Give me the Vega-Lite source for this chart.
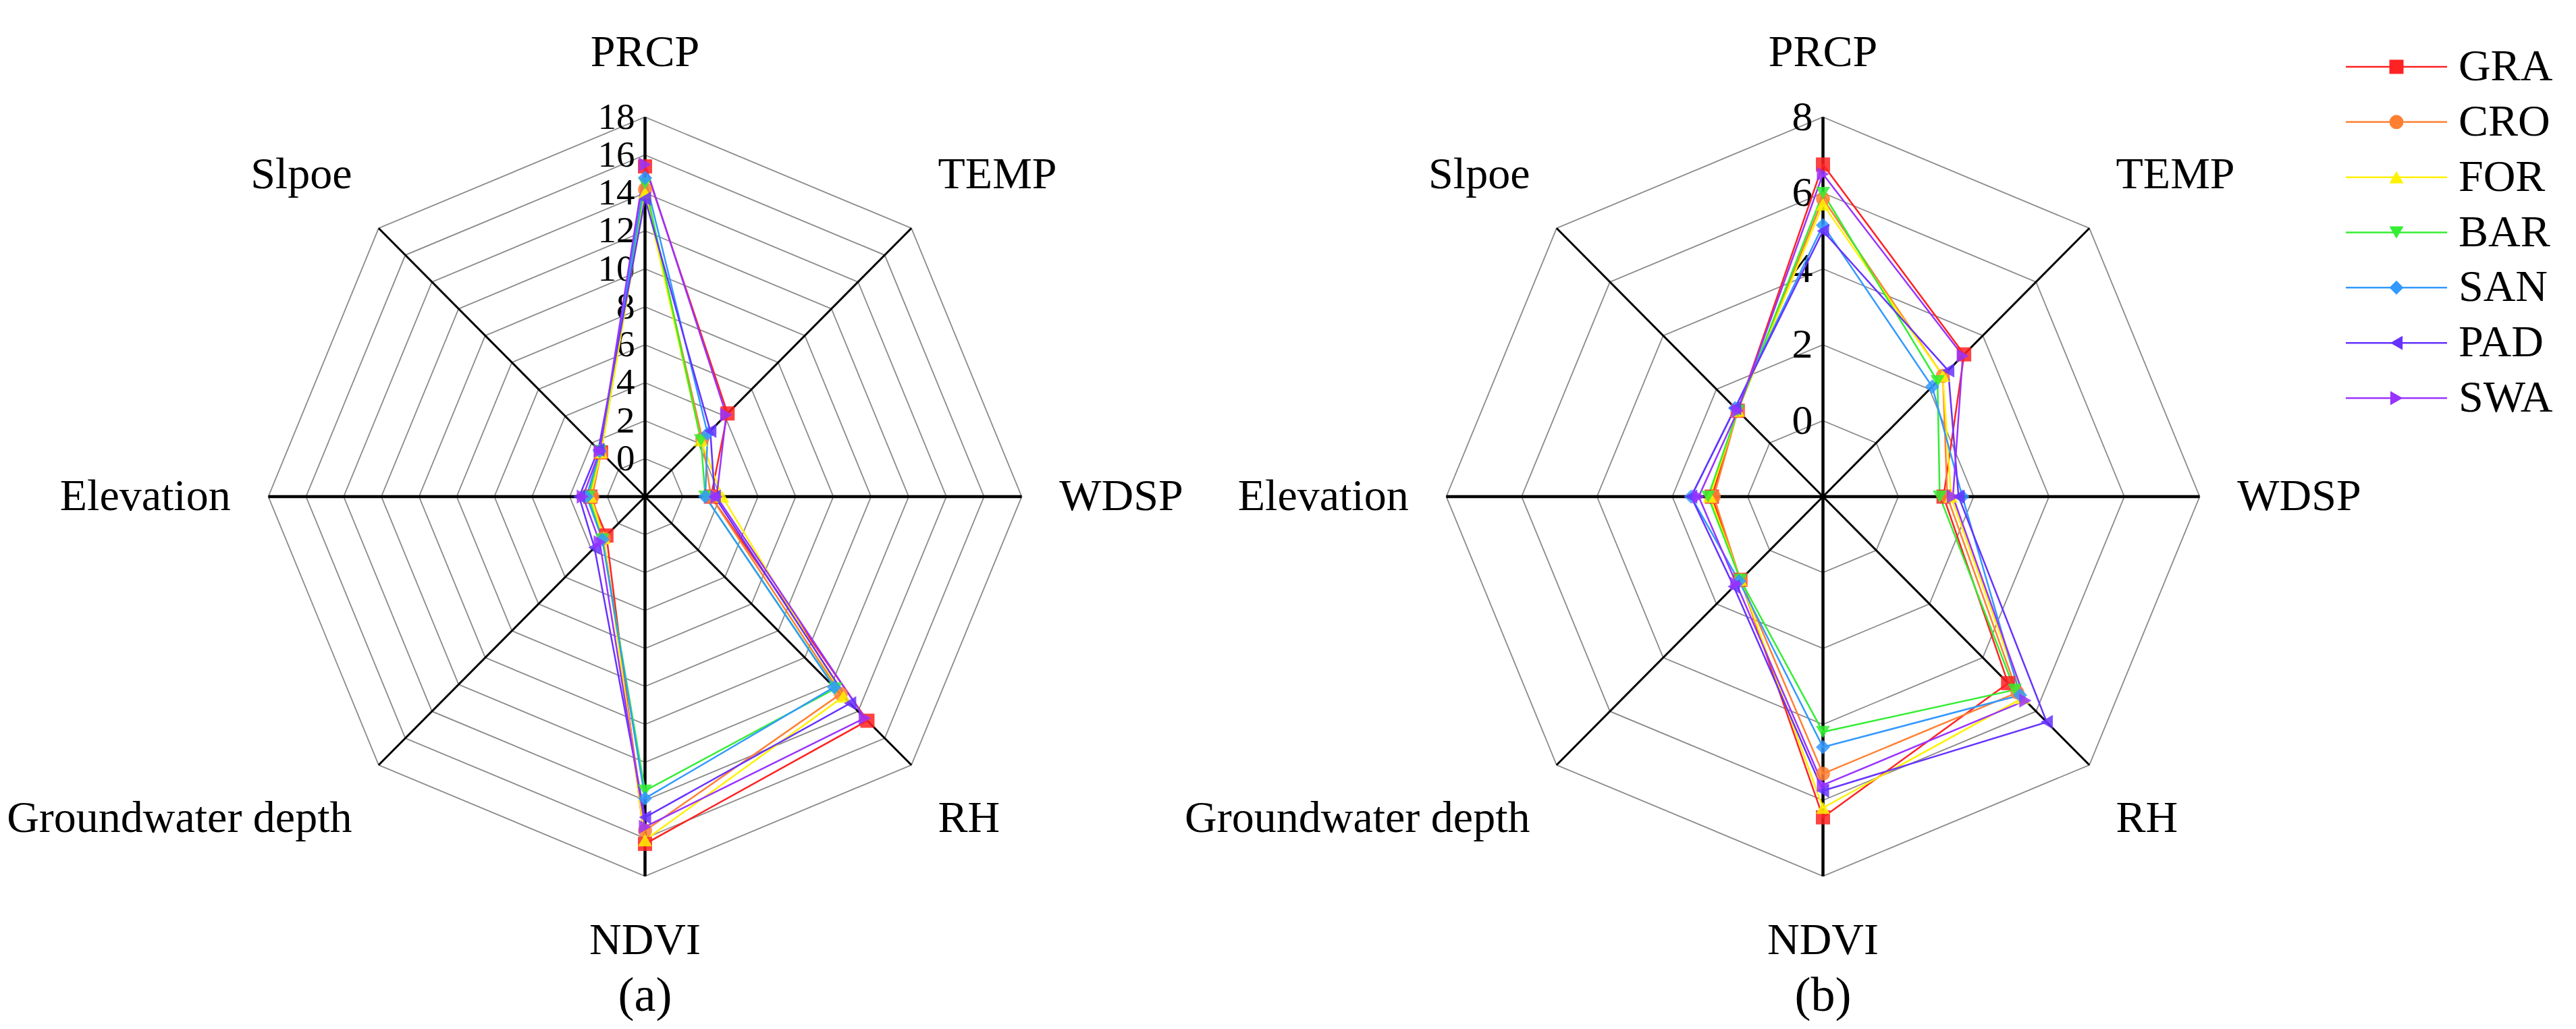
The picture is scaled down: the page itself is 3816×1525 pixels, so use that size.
{
  "$schema": "https://vega.github.io/schema/vega-lite/v6.json",
  "background": "white",
  "padding": 0,
  "autosize": {"type": "pad"},
  "spacing": 0,
  "bounds": "flush",
  "config": {"view": {"stroke": null}, "font": "Liberation Serif", "text": {"font": "Liberation Serif"}},
  "datasets": {
    "axes": [
      {"axis": "PRCP", "k": 0},
      {"axis": "TEMP", "k": 1},
      {"axis": "WDSP", "k": 2},
      {"axis": "RH", "k": 3},
      {"axis": "NDVI", "k": 4},
      {"axis": "Groundwater depth", "k": 5},
      {"axis": "Elevation", "k": 6},
      {"axis": "Slpoe", "k": 7}
    ],
    "groups": [
      {"group": "GRA"}, {"group": "CRO"}, {"group": "FOR"}, {"group": "BAR"},
      {"group": "SAN"}, {"group": "PAD"}, {"group": "SWA"}
    ],
    "captions": [
      {"chart": "a", "label": "(a)"},
      {"chart": "b", "label": "(b)"}
    ],
    "rings": [
      {"chart": "a", "level": 0, "k": [0,1,2,3,4,5,6,7]},
      {"chart": "a", "level": 2, "k": [0,1,2,3,4,5,6,7]},
      {"chart": "a", "level": 4, "k": [0,1,2,3,4,5,6,7]},
      {"chart": "a", "level": 6, "k": [0,1,2,3,4,5,6,7]},
      {"chart": "a", "level": 8, "k": [0,1,2,3,4,5,6,7]},
      {"chart": "a", "level": 10, "k": [0,1,2,3,4,5,6,7]},
      {"chart": "a", "level": 12, "k": [0,1,2,3,4,5,6,7]},
      {"chart": "a", "level": 14, "k": [0,1,2,3,4,5,6,7]},
      {"chart": "a", "level": 16, "k": [0,1,2,3,4,5,6,7]},
      {"chart": "a", "level": 18, "k": [0,1,2,3,4,5,6,7]},
      {"chart": "b", "level": 0, "k": [0,1,2,3,4,5,6,7]},
      {"chart": "b", "level": 2, "k": [0,1,2,3,4,5,6,7]},
      {"chart": "b", "level": 4, "k": [0,1,2,3,4,5,6,7]},
      {"chart": "b", "level": 6, "k": [0,1,2,3,4,5,6,7]},
      {"chart": "b", "level": 8, "k": [0,1,2,3,4,5,6,7]}
    ],
    "series": [
      {"chart": "a", "axis": "PRCP", "GRA": 15.4, "CRO": 14.2, "FOR": 14.0, "BAR": 14.5, "SAN": 14.8, "PAD": 13.7, "SWA": 15.5},
      {"chart": "a", "axis": "TEMP", "GRA": 4.2, "CRO": 2.3, "FOR": 2.2, "BAR": 2.2, "SAN": 2.7, "PAD": 2.9, "SWA": 4.1},
      {"chart": "a", "axis": "WDSP", "GRA": 1.5, "CRO": 1.5, "FOR": 2.1, "BAR": 1.2, "SAN": 1.2, "PAD": 1.7, "SWA": 1.8},
      {"chart": "a", "axis": "RH", "GRA": 14.7, "CRO": 12.7, "FOR": 12.9, "BAR": 12.3, "SAN": 12.2, "PAD": 13.4, "SWA": 14.5},
      {"chart": "a", "axis": "NDVI", "GRA": 16.3, "CRO": 15.6, "FOR": 16.1, "BAR": 13.5, "SAN": 13.9, "PAD": 14.9, "SWA": 15.4},
      {"chart": "a", "axis": "Groundwater depth", "GRA": 0.9, "CRO": 1.1, "FOR": 1.1, "BAR": 1.2, "SAN": 1.2, "PAD": 1.8, "SWA": 1.4},
      {"chart": "a", "axis": "Elevation", "GRA": 0.9, "CRO": 0.8, "FOR": 0.9, "BAR": 1.0, "SAN": 1.1, "PAD": 1.5, "SWA": 1.3},
      {"chart": "a", "axis": "Slpoe", "GRA": 1.3, "CRO": 1.3, "FOR": 1.3, "BAR": 1.4, "SAN": 1.4, "PAD": 1.5, "SWA": 1.4},
      {"chart": "b", "axis": "PRCP", "GRA": 6.75, "CRO": 5.85, "FOR": 5.7, "BAR": 6.0, "SAN": 5.15, "PAD": 5.0, "SWA": 6.5},
      {"chart": "b", "axis": "TEMP", "GRA": 3.3, "CRO": 2.5, "FOR": 2.5, "BAR": 2.3, "SAN": 2.1, "PAD": 2.7, "SWA": 3.25},
      {"chart": "b", "axis": "WDSP", "GRA": 1.2, "CRO": 1.3, "FOR": 1.4, "BAR": 1.1, "SAN": 1.7, "PAD": 1.6, "SWA": 1.45},
      {"chart": "b", "axis": "RH", "GRA": 4.95, "CRO": 5.3, "FOR": 5.5, "BAR": 5.2, "SAN": 5.4, "PAD": 6.4, "SWA": 5.6},
      {"chart": "b", "axis": "NDVI", "GRA": 6.45, "CRO": 5.3, "FOR": 6.2, "BAR": 4.2, "SAN": 4.6, "PAD": 5.75, "SWA": 5.6},
      {"chart": "b", "axis": "Groundwater depth", "GRA": 1.1, "CRO": 1.1, "FOR": 1.1, "BAR": 1.1, "SAN": 1.15, "PAD": 1.35, "SWA": 1.25},
      {"chart": "b", "axis": "Elevation", "GRA": 0.95, "CRO": 0.9, "FOR": 1.0, "BAR": 1.05, "SAN": 1.5, "PAD": 1.5, "SWA": 1.3},
      {"chart": "b", "axis": "Slpoe", "GRA": 1.2, "CRO": 1.2, "FOR": 1.2, "BAR": 1.2, "SAN": 1.3, "PAD": 1.3, "SWA": 1.2}
    ]
  },
  "hconcat": [
    {
      "width": 1830,
      "height": 1525,
      "encoding": {
        "x": {"field": "px", "type": "quantitative", "scale": {"domain": [-1.7124, 1.5672], "nice": false, "zero": false}, "axis": null},
        "y": {"field": "py", "type": "quantitative", "scale": {"domain": [-1.4027, 1.3085], "nice": false, "zero": false}, "axis": null}
      },
      "layer": [
        {
          "data": {"name": "rings"},
          "transform": [
            {"filter": "datum.chart == 'a'"},
            {"flatten": ["k"]},
            {"calculate": "(datum.level + 2) / 20", "as": "r"},
            {"calculate": "datum.r * sin(datum.k * PI / 4)", "as": "px"},
            {"calculate": "datum.r * cos(datum.k * PI / 4)", "as": "py"}
          ],
          "mark": {"type": "line", "interpolate": "linear-closed", "stroke": "#8a8a8a", "strokeWidth": 1.8},
          "encoding": {"detail": {"field": "level", "type": "nominal"}, "order": {"field": "k", "type": "quantitative"}}
        },
        {
          "data": {"name": "axes"},
          "transform": [
            {"calculate": "sin(datum.k * PI / 4)", "as": "px"},
            {"calculate": "cos(datum.k * PI / 4)", "as": "py"}
          ],
          "mark": {"type": "rule", "color": "black"},
          "encoding": {
            "x2": {"datum": 0}, "y2": {"datum": 0},
            "strokeWidth": {"condition": {"test": "datum.k % 2 == 0", "value": 4.5}, "value": 3}
          }
        },
        {
          "data": {"name": "rings"},
          "transform": [
            {"filter": "datum.chart == 'a'"},
            {"calculate": "(datum.level + 2) / 20", "as": "py"},
            {"calculate": "0 * datum.level", "as": "px"}
          ],
          "mark": {"type": "text", "align": "right", "baseline": "middle", "dx": -15, "fontSize": 55, "color": "black"},
          "encoding": {"text": {"field": "level", "type": "quantitative"}}
        },
        {
          "data": {"name": "axes"},
          "transform": [
            {"calculate": "1.1 * sin(datum.k * PI / 4)", "as": "px"},
            {"calculate": "1.1 * cos(datum.k * PI / 4) + (cos(datum.k * PI / 4) > 0.1 ? 0.07 : (cos(datum.k * PI / 4) < -0.1 ? -0.07 : 0))", "as": "py"},
            {"calculate": "sin(datum.k * PI / 4) > 0.1 ? 'left' : (sin(datum.k * PI / 4) < -0.1 ? 'right' : 'center')", "as": "side"}
          ],
          "layer": [
            {"transform": [{"filter": "datum.side == 'left'"}], "mark": {"type": "text", "align": "left", "baseline": "middle", "fontSize": 66, "color": "black"}, "encoding": {"text": {"field": "axis"}}},
            {"transform": [{"filter": "datum.side == 'right'"}], "mark": {"type": "text", "align": "right", "baseline": "middle", "fontSize": 66, "color": "black"}, "encoding": {"text": {"field": "axis"}}},
            {"transform": [{"filter": "datum.side == 'center'"}], "mark": {"type": "text", "align": "center", "baseline": "middle", "fontSize": 66, "color": "black"}, "encoding": {"text": {"field": "axis"}}}
          ]
        },
        {
          "data": {"name": "captions"},
          "transform": [
            {"filter": "datum.chart == 'a'"},
            {"calculate": "0", "as": "px"},
            {"calculate": "-1.3156", "as": "py"}
          ],
          "mark": {"type": "text", "align": "center", "baseline": "middle", "fontSize": 72, "color": "black"},
          "encoding": {"text": {"field": "label"}}
        },
        {
          "data": {"name": "series"},
          "transform": [
            {"filter": "datum.chart == 'a'"},
            {"fold": ["GRA", "CRO", "FOR", "BAR", "SAN", "PAD", "SWA"], "as": ["group", "value"]},
            {"lookup": "axis", "from": {"data": {"name": "axes"}, "key": "axis", "fields": ["k"]}},
            {"calculate": "(datum.value + 2) / 20", "as": "r"},
            {"calculate": "datum.r * sin(datum.k * PI / 4)", "as": "px"},
            {"calculate": "datum.r * cos(datum.k * PI / 4)", "as": "py"}
          ],
          "encoding": {
            "color": {"field": "group", "type": "nominal", "scale": {"domain": ["GRA", "CRO", "FOR", "BAR", "SAN", "PAD", "SWA"], "range": ["#FF2222", "#FF8033", "#FFF200", "#33EE33", "#3399FF", "#6633FF", "#9933FF"]}, "legend": null}
          },
          "layer": [
            {"mark": {"type": "line", "interpolate": "linear-closed", "strokeWidth": 2.5}, "encoding": {"order": {"field": "k", "type": "quantitative"}}},
            {"mark": {"type": "point", "filled": true, "size": 440, "opacity": 0.85}, "encoding": {"shape": {"field": "group", "type": "nominal", "scale": {"domain": ["GRA", "CRO", "FOR", "BAR", "SAN", "PAD", "SWA"], "range": ["square", "circle", "triangle-up", "triangle-down", "diamond", "triangle-left", "triangle-right"]}, "legend": null}}}
          ]
        }
      ]
    },
    {
      "width": 1400,
      "height": 1525,
      "encoding": {
        "x": {"field": "px", "type": "quantitative", "scale": {"domain": [-1.5600, 0.9489], "nice": false, "zero": false}, "axis": null},
        "y": {"field": "py", "type": "quantitative", "scale": {"domain": [-1.4027, 1.3085], "nice": false, "zero": false}, "axis": null}
      },
      "layer": [
        {
          "data": {"name": "rings"},
          "transform": [
            {"filter": "datum.chart == 'b'"},
            {"flatten": ["k"]},
            {"calculate": "(datum.level + 2) / 10", "as": "r"},
            {"calculate": "datum.r * sin(datum.k * PI / 4)", "as": "px"},
            {"calculate": "datum.r * cos(datum.k * PI / 4)", "as": "py"}
          ],
          "mark": {"type": "line", "interpolate": "linear-closed", "stroke": "#8a8a8a", "strokeWidth": 1.8},
          "encoding": {"detail": {"field": "level", "type": "nominal"}, "order": {"field": "k", "type": "quantitative"}}
        },
        {
          "data": {"name": "axes"},
          "transform": [
            {"calculate": "sin(datum.k * PI / 4)", "as": "px"},
            {"calculate": "cos(datum.k * PI / 4)", "as": "py"}
          ],
          "mark": {"type": "rule", "color": "black"},
          "encoding": {
            "x2": {"datum": 0}, "y2": {"datum": 0},
            "strokeWidth": {"condition": {"test": "datum.k % 2 == 0", "value": 4.5}, "value": 3}
          }
        },
        {
          "data": {"name": "rings"},
          "transform": [
            {"filter": "datum.chart == 'b'"},
            {"calculate": "(datum.level + 2) / 10", "as": "py"},
            {"calculate": "0 * datum.level", "as": "px"}
          ],
          "mark": {"type": "text", "align": "right", "baseline": "middle", "dx": -15, "fontSize": 62, "color": "black"},
          "encoding": {"text": {"field": "level", "type": "quantitative"}}
        },
        {
          "data": {"name": "axes"},
          "transform": [
            {"calculate": "1.1 * sin(datum.k * PI / 4)", "as": "px"},
            {"calculate": "1.1 * cos(datum.k * PI / 4) + (cos(datum.k * PI / 4) > 0.1 ? 0.07 : (cos(datum.k * PI / 4) < -0.1 ? -0.07 : 0))", "as": "py"},
            {"calculate": "sin(datum.k * PI / 4) > 0.1 ? 'left' : (sin(datum.k * PI / 4) < -0.1 ? 'right' : 'center')", "as": "side"}
          ],
          "layer": [
            {"transform": [{"filter": "datum.side == 'left'"}], "mark": {"type": "text", "align": "left", "baseline": "middle", "fontSize": 66, "color": "black"}, "encoding": {"text": {"field": "axis"}}},
            {"transform": [{"filter": "datum.side == 'right'"}], "mark": {"type": "text", "align": "right", "baseline": "middle", "fontSize": 66, "color": "black"}, "encoding": {"text": {"field": "axis"}}},
            {"transform": [{"filter": "datum.side == 'center'"}], "mark": {"type": "text", "align": "center", "baseline": "middle", "fontSize": 66, "color": "black"}, "encoding": {"text": {"field": "axis"}}}
          ]
        },
        {
          "data": {"name": "captions"},
          "transform": [
            {"filter": "datum.chart == 'b'"},
            {"calculate": "0", "as": "px"},
            {"calculate": "-1.3156", "as": "py"}
          ],
          "mark": {"type": "text", "align": "center", "baseline": "middle", "fontSize": 72, "color": "black"},
          "encoding": {"text": {"field": "label"}}
        },
        {
          "data": {"name": "series"},
          "transform": [
            {"filter": "datum.chart == 'b'"},
            {"fold": ["GRA", "CRO", "FOR", "BAR", "SAN", "PAD", "SWA"], "as": ["group", "value"]},
            {"lookup": "axis", "from": {"data": {"name": "axes"}, "key": "axis", "fields": ["k"]}},
            {"calculate": "(datum.value + 2) / 10", "as": "r"},
            {"calculate": "datum.r * sin(datum.k * PI / 4)", "as": "px"},
            {"calculate": "datum.r * cos(datum.k * PI / 4)", "as": "py"}
          ],
          "encoding": {
            "color": {"field": "group", "type": "nominal", "scale": {"domain": ["GRA", "CRO", "FOR", "BAR", "SAN", "PAD", "SWA"], "range": ["#FF2222", "#FF8033", "#FFF200", "#33EE33", "#3399FF", "#6633FF", "#9933FF"]}, "legend": null}
          },
          "layer": [
            {"mark": {"type": "line", "interpolate": "linear-closed", "strokeWidth": 2.5}, "encoding": {"order": {"field": "k", "type": "quantitative"}}},
            {"mark": {"type": "point", "filled": true, "size": 440, "opacity": 0.85}, "encoding": {"shape": {"field": "group", "type": "nominal", "scale": {"domain": ["GRA", "CRO", "FOR", "BAR", "SAN", "PAD", "SWA"], "range": ["square", "circle", "triangle-up", "triangle-down", "diamond", "triangle-left", "triangle-right"]}, "legend": null}}}
          ]
        }
      ]
    },
    {
      "width": 586,
      "height": 1525,
      "data": {"name": "groups"},
      "encoding": {
        "y": {"field": "group", "type": "ordinal", "sort": null, "scale": {"type": "point", "domain": ["GRA", "CRO", "FOR", "BAR", "SAN", "PAD", "SWA"], "range": [99, 590], "padding": 0}, "axis": null},
        "color": {"field": "group", "type": "nominal", "scale": {"domain": ["GRA", "CRO", "FOR", "BAR", "SAN", "PAD", "SWA"], "range": ["#FF2222", "#FF8033", "#FFF200", "#33EE33", "#3399FF", "#6633FF", "#9933FF"]}, "legend": null}
      },
      "layer": [
        {
          "mark": {"type": "rule", "strokeWidth": 2.5},
          "encoding": {
            "x": {"datum": 0, "type": "quantitative", "scale": {"domain": [-1.6333, 2.2733], "nice": false, "zero": false}, "axis": null},
            "x2": {"datum": 1}
          }
        },
        {
          "mark": {"type": "point", "filled": true, "size": 440, "opacity": 1},
          "encoding": {
            "x": {"datum": 0.5, "type": "quantitative"},
            "shape": {"field": "group", "type": "nominal", "scale": {"domain": ["GRA", "CRO", "FOR", "BAR", "SAN", "PAD", "SWA"], "range": ["square", "circle", "triangle-up", "triangle-down", "diamond", "triangle-left", "triangle-right"]}, "legend": null}
          }
        },
        {
          "mark": {"type": "text", "align": "left", "baseline": "middle", "fontSize": 66, "color": "black"},
          "encoding": {
            "x": {"datum": 1.113, "type": "quantitative"},
            "text": {"field": "group"},
            "color": {"value": "black"}
          }
        }
      ]
    }
  ]
}
